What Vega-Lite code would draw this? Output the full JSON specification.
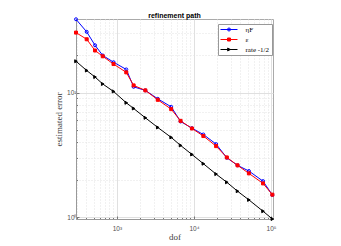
{
  "$schema": "https://vega.github.io/schema/vega-lite/v6.json",
  "autosize": "none",
  "width": 197,
  "height": 200,
  "padding": {"left": 76, "top": 19, "right": 68, "bottom": 27},
  "background": "white",
  "config": {"view": {"stroke": "#aaaaaa", "strokeWidth": 1}},
  "title": {"text": "refinement path", "font": "Liberation Sans", "fontSize": 7, "fontWeight": "bold", "color": "#000000", "offset": -3, "anchor": "middle"},
  "data": {"values": [
    {"dof": 295, "err": 38.6, "series": "ηF", "key": "eta"},
    {"dof": 406, "err": 30.6, "series": "ηF", "key": "eta"},
    {"dof": 521, "err": 23.9, "series": "ηF", "key": "eta"},
    {"dof": 656, "err": 19.8, "series": "ηF", "key": "eta"},
    {"dof": 905, "err": 17.5, "series": "ηF", "key": "eta"},
    {"dof": 1324, "err": 15.3, "series": "ηF", "key": "eta"},
    {"dof": 1649, "err": 11.1, "series": "ηF", "key": "eta"},
    {"dof": 2342, "err": 10.4, "series": "ηF", "key": "eta"},
    {"dof": 3392, "err": 8.9, "series": "ηF", "key": "eta"},
    {"dof": 5063, "err": 7.68, "series": "ηF", "key": "eta"},
    {"dof": 6702, "err": 5.86, "series": "ηF", "key": "eta"},
    {"dof": 9418, "err": 5.18, "series": "ηF", "key": "eta"},
    {"dof": 13240, "err": 4.61, "series": "ηF", "key": "eta"},
    {"dof": 19370, "err": 3.86, "series": "ηF", "key": "eta"},
    {"dof": 26680, "err": 3.0, "series": "ηF", "key": "eta"},
    {"dof": 36740, "err": 2.61, "series": "ηF", "key": "eta"},
    {"dof": 51600, "err": 2.35, "series": "ηF", "key": "eta"},
    {"dof": 78700, "err": 1.95, "series": "ηF", "key": "eta"},
    {"dof": 104000, "err": 1.51, "series": "ηF", "key": "eta"},
    {"dof": 295, "err": 30.2, "series": "ε", "key": "eps"},
    {"dof": 406, "err": 26.7, "series": "ε", "key": "eps"},
    {"dof": 521, "err": 21.7, "series": "ε", "key": "eps"},
    {"dof": 656, "err": 19.5, "series": "ε", "key": "eps"},
    {"dof": 905, "err": 16.9, "series": "ε", "key": "eps"},
    {"dof": 1324, "err": 14.5, "series": "ε", "key": "eps"},
    {"dof": 1649, "err": 11.4, "series": "ε", "key": "eps"},
    {"dof": 2342, "err": 10.4, "series": "ε", "key": "eps"},
    {"dof": 3392, "err": 8.74, "series": "ε", "key": "eps"},
    {"dof": 5063, "err": 7.36, "series": "ε", "key": "eps"},
    {"dof": 6702, "err": 5.93, "series": "ε", "key": "eps"},
    {"dof": 9418, "err": 5.15, "series": "ε", "key": "eps"},
    {"dof": 13240, "err": 4.48, "series": "ε", "key": "eps"},
    {"dof": 19370, "err": 3.72, "series": "ε", "key": "eps"},
    {"dof": 26680, "err": 3.02, "series": "ε", "key": "eps"},
    {"dof": 36740, "err": 2.61, "series": "ε", "key": "eps"},
    {"dof": 51600, "err": 2.25, "series": "ε", "key": "eps"},
    {"dof": 78700, "err": 1.87, "series": "ε", "key": "eps"},
    {"dof": 104000, "err": 1.52, "series": "ε", "key": "eps"},
    {"dof": 295, "err": 17.8, "series": "rate -1/2", "key": "rate"},
    {"dof": 406, "err": 15.0, "series": "rate -1/2", "key": "rate"},
    {"dof": 521, "err": 13.3, "series": "rate -1/2", "key": "rate"},
    {"dof": 656, "err": 11.7, "series": "rate -1/2", "key": "rate"},
    {"dof": 905, "err": 10.2, "series": "rate -1/2", "key": "rate"},
    {"dof": 1324, "err": 8.27, "series": "rate -1/2", "key": "rate"},
    {"dof": 1649, "err": 7.45, "series": "rate -1/2", "key": "rate"},
    {"dof": 2342, "err": 6.27, "series": "rate -1/2", "key": "rate"},
    {"dof": 3392, "err": 5.25, "series": "rate -1/2", "key": "rate"},
    {"dof": 5063, "err": 4.37, "series": "rate -1/2", "key": "rate"},
    {"dof": 6702, "err": 3.77, "series": "rate -1/2", "key": "rate"},
    {"dof": 9418, "err": 3.19, "series": "rate -1/2", "key": "rate"},
    {"dof": 13240, "err": 2.69, "series": "rate -1/2", "key": "rate"},
    {"dof": 19370, "err": 2.22, "series": "rate -1/2", "key": "rate"},
    {"dof": 26680, "err": 1.91, "series": "rate -1/2", "key": "rate"},
    {"dof": 36740, "err": 1.62, "series": "rate -1/2", "key": "rate"},
    {"dof": 51600, "err": 1.38, "series": "rate -1/2", "key": "rate"},
    {"dof": 78700, "err": 1.12, "series": "rate -1/2", "key": "rate"},
    {"dof": 104000, "err": 0.97, "series": "rate -1/2", "key": "rate"}
  ]},
  "encoding": {
    "x": {"field": "dof", "type": "quantitative",
      "scale": {"type": "log", "domain": [295, 106000], "nice": false},
      "axis": {"title": "dof", "titleFont": "Liberation Serif", "titleFontSize": 9, "titleFontWeight": "normal", "titleColor": "#404040", "titlePadding": -1,
        "values": [300,400,500,600,700,800,900,1000,2000,3000,4000,5000,6000,7000,8000,9000,10000,20000,30000,40000,50000,60000,70000,80000,90000,100000],
        "labelExpr": "datum.value==1000?'10³':datum.value==10000?'10⁴':datum.value==100000?'10⁵':''",
        "labelFont": "Liberation Sans", "labelFontSize": 6.5, "labelColor": "#505050", "labelPadding": 9, "labelFlush": false, "labelOverlap": false,
        "domainColor": "#999999", "tickColor": "#777777", "tickSize": {"condition": {"test": "datum.value==1000||datum.value==10000||datum.value==100000", "value": -3}, "value": -1.5},
        "gridColor": {"condition": {"test": "datum.value==1000||datum.value==10000||datum.value==100000", "value": "#e0e0e0"}, "value": "#e3e3e3"},
        "gridDash": {"condition": {"test": "datum.value==1000||datum.value==10000||datum.value==100000", "value": []}, "value": [1, 2]}}},
    "y": {"field": "err", "type": "quantitative",
      "scale": {"type": "log", "domain": [0.97, 38.8], "nice": false},
      "axis": {"title": "estimated error", "titleFont": "Liberation Serif", "titleFontSize": 9, "titleFontWeight": "normal", "titleColor": "#404040", "titlePadding": 3,
        "values": [1,2,3,4,5,6,7,8,9,10,20,30],
        "labelExpr": "datum.value==1?'10⁰':datum.value==10?'10¹':''",
        "labelFont": "Liberation Sans", "labelFontSize": 6.5, "labelColor": "#505050", "labelPadding": 3, "labelFlush": false, "labelOverlap": false,
        "domainColor": "#999999", "tickColor": "#777777", "tickSize": {"condition": {"test": "datum.value==1||datum.value==10", "value": -3}, "value": -1.5},
        "gridColor": {"condition": {"test": "datum.value==1||datum.value==10", "value": "#e0e0e0"}, "value": "#e3e3e3"},
        "gridDash": {"condition": {"test": "datum.value==1||datum.value==10", "value": []}, "value": [1, 2]}}}
  },
  "layer": [
    {
      "mark": {"type": "line", "strokeWidth": 1},
      "encoding": {
        "color": {"field": "series", "type": "nominal",
          "scale": {"domain": ["ηF", "ε", "rate -1/2"], "range": ["#0000ff", "#ff0000", "#000000"]},
          "legend": {"title": null, "orient": "none", "legendX": 142, "legendY": 5, "symbolType": "M-3,0H3", "symbolSize": 32, "symbolStrokeWidth": 1, "symbolOffset": 5.5,
            "labelFont": "Liberation Serif", "labelFontSize": 7, "labelColor": "#000000", "labelOffset": 13, "rowPadding": 2, "padding": 2,
            "strokeColor": "#999999", "fillColor": "#ffffff"}}
      }
    },
    {
      "mark": {"type": "point", "filled": true, "size": 9, "strokeWidth": 1, "opacity": 1},
      "encoding": {
        "shape": {"field": "key", "type": "nominal",
          "scale": {"domain": ["eta", "eps", "rate"], "range": ["circle", "square", "triangle-right"]},
          "legend": {"title": null, "orient": "none", "legendX": 142, "legendY": 5, "symbolSize": 9, "symbolStrokeWidth": 1, "symbolOffset": 5.5,
            "labelExpr": "''", "labelFont": "Liberation Serif", "labelFontSize": 7, "labelOffset": 13, "rowPadding": 2, "padding": 2}},
        "stroke": {"field": "key", "type": "nominal",
          "scale": {"domain": ["eta", "eps", "rate"], "range": ["#0000ff", "#ff0000", "#000000"]},
          "legend": {"title": null, "orient": "none", "legendX": 142, "legendY": 5, "symbolSize": 9, "symbolStrokeWidth": 1, "symbolOffset": 5.5,
            "labelExpr": "''", "labelFont": "Liberation Serif", "labelFontSize": 7, "labelOffset": 13, "rowPadding": 2, "padding": 2}},
        "fill": {"field": "key", "type": "nominal",
          "scale": {"domain": ["eta", "eps", "rate"], "range": ["transparent", "#ff0000", "#000000"]},
          "legend": {"title": null, "orient": "none", "legendX": 142, "legendY": 5, "symbolSize": 9, "symbolStrokeWidth": 1, "symbolOffset": 5.5,
            "labelExpr": "''", "labelFont": "Liberation Serif", "labelFontSize": 7, "labelOffset": 13, "rowPadding": 2, "padding": 2}}
      }
    }
  ]
}
